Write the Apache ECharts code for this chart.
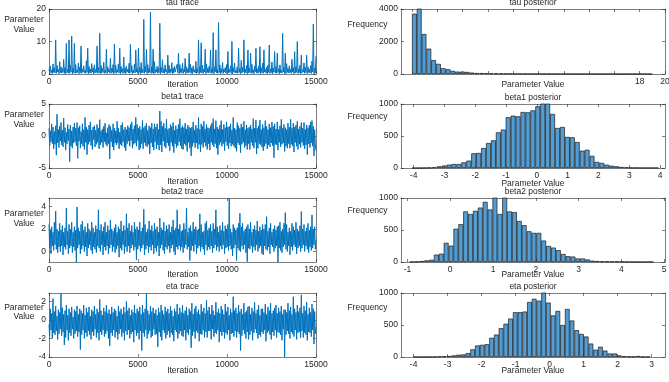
<!DOCTYPE html>
<html>
<head>
  <meta charset="utf-8" />
  <title>MCMC trace and posterior</title>
  <script src="https://cdn.jsdelivr.net/npm/echarts@6/dist/echarts.min.js"></script>
  <style>
    html, body { margin: 0; padding: 0; background: #fff; }
    #main { width: 669px; height: 382px; }
  </style>
</head>
<body>
  <div id="main"></div>
  <script type="text/javascript">
    // trace samples, one value every traceStep iterations
    var traceStep = 37.5;
    var tauTrace = [
      1.6, 0.2, 2.4, 0.4, 1.2, 0.1, 3.1, 0.5, 1.9, 0.3, 10.5, 0.2, 2.7, 0.6, 1.4, 0.1, 3.8, 0.4, 2.2, 0.3,
      1.7, 0.5, 4.5, 0.2, 2.0, 0.1, 9.4, 0.4, 1.5, 0.3, 10.5, 0.2, 2.6, 0.6, 11.7, 0.1, 1.8, 0.4, 9.4, 0.2,
      2.9, 0.3, 1.3, 0.5, 3.4, 0.1, 2.1, 0.4, 8.6, 0.2, 1.6, 0.6, 2.5, 0.3, 1.1, 0.2, 4.1, 0.5, 7.9, 0.1,
      2.3, 0.4, 1.5, 0.2, 3.2, 0.6, 1.9, 0.1, 2.8, 0.3, 1.4, 0.5, 8.6, 0.2, 2.0, 0.4, 12.5, 0.1, 2.6, 0.3,
      1.7, 0.5, 3.6, 0.2, 1.2, 0.4, 7.6, 0.1, 2.2, 0.6, 1.5, 0.3, 4.8, 0.2, 1.8, 0.5, 2.9, 0.1, 9.2, 0.4,
      2.7, 0.2, 1.3, 0.6, 3.1, 0.3, 7.9, 0.1, 2.3, 0.5, 1.6, 0.2, 5.2, 0.4, 1.9, 0.1, 2.5, 0.6, 1.4, 0.3,
      3.3, 0.2, 9.1, 0.5, 2.6, 0.1, 1.2, 0.4, 3.0, 0.3, 7.4, 0.6, 1.7, 0.2, 7.9, 0.5, 2.1, 0.1, 3.5, 0.3,
      1.5, 0.4, 16.8, 0.2, 2.4, 0.6, 7.6, 0.1, 2.9, 0.3, 1.8, 0.5, 19.0, 0.2, 2.2, 0.4, 7.6, 0.1, 3.8, 0.3,
      1.4, 0.6, 2.4, 0.2, 1.9, 0.4, 15.6, 0.1, 2.1, 0.5, 4.4, 0.3, 1.6, 0.2, 2.8, 0.6, 1.3, 0.1, 5.8, 0.4,
      2.6, 0.2, 1.5, 0.5, 3.5, 0.1, 1.8, 0.3, 2.4, 0.6, 1.2, 0.2, 3.0, 0.4, 6.4, 0.1, 2.9, 0.5, 1.7, 0.3,
      3.3, 0.2, 1.4, 0.6, 4.8, 0.1, 2.2, 0.4, 1.6, 0.3, 6.4, 0.5, 3.0, 0.2, 1.9, 0.1, 2.5, 0.6, 1.3, 0.3,
      3.9, 0.2, 1.7, 0.4, 10.5, 0.1, 2.3, 0.5, 9.6, 0.3, 2.7, 0.2, 1.4, 0.6, 7.6, 0.1, 3.1, 0.4, 1.8, 0.3,
      2.4, 0.5, 7.4, 0.2, 1.6, 0.4, 12.7, 0.1, 2.2, 0.6, 7.4, 0.3, 1.3, 0.2, 15.8, 0.5, 2.8, 0.1, 1.7, 0.4,
      3.6, 0.2, 1.5, 0.6, 2.0, 0.3, 2.9, 0.1, 6.9, 0.4, 1.4, 0.5, 2.5, 0.2, 10.0, 0.1, 1.9, 0.6, 3.4, 0.3,
      1.2, 0.4, 2.2, 0.2, 7.9, 0.5, 1.7, 0.1, 4.2, 0.3, 2.0, 0.6, 10.5, 0.2, 1.5, 0.4, 2.6, 0.1, 7.4, 0.3,
      1.8, 0.5, 6.4, 0.2, 3.0, 0.4, 1.3, 0.1, 2.4, 0.6, 7.9, 0.3, 1.6, 0.2, 2.4, 0.5, 8.4, 0.1, 1.9, 0.4,
      3.3, 0.2, 7.4, 0.6, 1.4, 0.3, 2.1, 0.1, 2.7, 0.5, 8.9, 0.2, 1.5, 0.4, 3.7, 0.1, 1.8, 0.6, 6.9, 0.3,
      2.3, 0.2, 6.4, 0.5, 1.6, 0.1, 2.8, 0.4, 1.2, 0.3, 12.5, 0.6, 2.0, 0.2, 6.4, 0.1, 3.2, 0.5, 1.7, 0.3,
      2.5, 0.4, 1.4, 0.2, 4.5, 0.6, 1.9, 0.1, 6.9, 0.3, 2.2, 0.5, 10.0, 0.2, 1.6, 0.4, 2.7, 0.1, 5.8, 0.3,
      1.3, 0.6, 3.4, 0.2, 2.0, 0.4, 5.8, 0.1, 2.2, 0.5, 1.5, 0.3, 2.6, 0.2, 4.0, 0.6, 15.4, 0.1, 1.8, 0.3,
      5.5
    ];
    var beta1Trace = [
      1.2, -1.5, 0.8, -0.9, 1.9, -1.2, 1.4, -2.0, 0.7, -1.3, 1.6, -3.0, 3.4, -1.1, 1.0, -1.8, 1.5, -0.8, 2.1, -1.4,
      0.9, -1.7, 2.8, -1.0, 1.3, -2.2, 0.6, -1.2, 1.8, -0.7, 1.1, -4.0, 1.7, -1.6, 0.8, -1.9, 1.4, -1.1, 2.0, -0.9,
      1.2, -1.5, 2.1, -3.5, 1.3, -0.8, 1.6, -1.9, 0.7, -1.2, 1.9, -1.6, 1.0, -2.1, 2.9, -1.0, 1.4, -2.9, 1.0, -1.3,
      1.7, -0.9, 2.2, -1.5, 0.9, -2.1, 1.4, -0.6, 1.6, -1.7, 0.9, -1.3, 1.8, -1.0, 1.2, -2.0, 2.55, -1.4, 0.8, -1.0,
      1.1, -1.8, 1.5, -0.9, 2.0, -1.3, 0.5, -1.6, 1.3, -1.2, 1.8, -3.6, 1.5, -0.9, 0.9, -1.7, 1.9, -2.2, 1.2, -1.1,
      0.8, -1.4, 2.3, -1.1, 1.2, -2.0, 0.6, -1.3, 1.7, -1.5, 2.1, -0.9, 1.0, -1.8, 1.4, -2.3, 1.0, -1.2, 1.6, -0.8,
      1.3, -1.6, 1.8, -0.7, 2.2, -1.9, 1.1, -1.3, 1.6, -1.1, 2.9, -1.6, 1.8, -0.7, 1.2, -2.2, 1.5, -1.9, 1.0, -1.2,
      2.4, -2.0, 1.3, -1.0, 1.6, -1.5, 2.0, -1.7, 0.9, -1.3, 1.6, -2.8, 1.3, -1.1, 2.0, -1.7, 1.1, -2.2, 1.9, -0.9,
      1.4, -2.0, 1.9, -1.4, 1.0, -2.2, 3.9, -1.4, 2.3, -2.5, 1.5, -0.8, 2.0, -1.6, 1.2, -1.9, 2.6, -1.1, 1.0, -1.5,
      1.2, -2.3, 1.8, -1.0, 1.5, -1.6, 2.1, -2.6, 0.9, -1.2, 1.6, -1.8, 1.1, -1.5, 1.8, -0.9, 2.7, -1.5, 1.3, -2.0,
      1.6, -2.1, 1.3, -1.2, 2.0, -1.5, 1.1, -2.4, 1.7, -1.0, 1.4, -1.9, 1.2, -3.1, 1.4, -1.6, 2.2, -1.1, 0.9, -1.8,
      1.7, -1.1, 1.2, -2.0, 2.9, -1.3, 1.0, -2.5, 1.9, -1.3, 1.5, -1.8, 2.3, -1.0, 1.1, -1.6, 1.8, -2.1, 1.3, -1.2,
      1.2, -2.2, 1.6, -1.0, 2.0, -1.4, 2.7, -1.7, 1.1, -1.2, 2.4, -1.9, 1.4, -2.9, 1.1, -1.4, 1.7, -1.0, 2.4, -1.6,
      1.0, -1.2, 1.8, -2.3, 1.3, -0.9, 2.2, -1.5, 1.4, -2.0, 1.5, -1.1, 1.9, -1.6, 0.9, -1.3, 2.9, -1.6, 1.2, -1.9,
      1.0, -2.4, 2.1, -1.1, 1.6, -1.4, 1.2, -2.6, 1.9, -1.3, 1.4, -1.0, 2.3, -1.8, 1.0, -1.5, 1.7, -2.1, 1.2, -1.2,
      1.4, -2.1, 1.7, -1.0, 1.1, -1.5, 2.7, -1.9, 1.2, -1.0, 2.5, -2.8, 1.2, -1.9, 1.6, -1.2, 2.5, -1.4, 1.0, -1.7,
      1.8, -2.3, 1.3, -1.6, 2.4, -1.2, 1.5, -2.0, 1.0, -1.4, 1.9, -1.7, 1.3, -1.1, 2.2, -1.5, 1.5, -3.4, 1.9, -1.3,
      1.1, -1.4, 2.2, -2.2, 1.0, -1.0, 1.6, -1.7, 2.6, -1.3, 1.2, -1.1, 1.8, -2.4, 1.3, -1.6, 1.0, -1.9, 2.0, -1.2,
      1.4, -1.9, 2.6, -1.3, 1.2, -1.6, 2.0, -2.5, 1.4, -1.0, 1.7, -1.6, 2.3, -2.1, 1.1, -1.3, 1.5, -1.8, 2.1, -1.0,
      1.2, -1.5, 2.1, -2.0, 1.0, -1.4, 1.7, -2.9, 1.3, -1.2, 1.7, -1.8, 2.2, -1.1, 2.4, -1.6, 1.5, -3.1, 1.0, -1.4,
      -2.3
    ];
    var beta2Trace = [
      2.4, 0.3, 1.9, -0.2, 2.2, 0.5, 1.7, 0.1, 2.6, 0.6, 3.6, 0.2, 2.0, -0.1, 1.8, 0.4, 2.5, 0.0, 1.9, 0.5,
      2.3, -0.3, 1.7, 0.4, 2.1, 0.2, 3.85, 0.6, 1.8, -0.2, 2.4, 0.3, 2.0, 0.5, 2.6, -0.1, 1.7, 0.4, 2.2, 0.1,
      1.9, -0.95, 3.95, 0.3, 2.1, 0.6, 1.8, -0.2, 2.4, 0.2, 2.7, 0.5, 1.9, 0.0, 2.2, 0.4, 1.7, -0.4, 2.5, 0.3,
      2.0, 0.6, 1.8, 0.1, 2.6, -0.2, 2.1, 0.4, 1.7, 0.2, 2.3, -0.1, 2.0, 0.5, 3.7, 0.3, 1.9, 0.0, 2.4, 0.6,
      1.8, -0.3, 2.2, 0.4, 2.6, 0.1, 1.7, 0.5, 2.3, -0.2, 1.9, 0.3, 2.8, 0.6, 2.0, 0.0, 1.8, 0.4, 2.1, -0.1,
      2.4, 0.2, 1.7, 0.5, 2.2, -0.5, 2.0, 0.3, 2.7, 0.1, 1.8, 0.6, 2.3, -0.2, 1.9, 0.4, 3.35, 0.0, 2.1, 0.5,
      2.5, -0.1, 1.8, 0.3, 2.3, 0.6, 1.7, 0.1, 2.6, 0.4, 2.0, -0.75, 2.2, 0.2, 1.9, 0.5, 2.6, 0.0, 1.8, 0.3,
      2.1, 0.6, 3.75, -0.3, 2.4, 0.2, 1.7, 0.5, 2.0, -0.1, 2.7, 0.4, 1.9, 0.1, 2.3, 0.6, 1.8, -0.2, 2.5, 0.3,
      2.0, 0.0, 2.2, 0.5, 1.7, -0.4, 2.96, 0.3, 2.1, 0.6, 1.9, 0.1, 2.6, -0.2, 1.8, 0.4, 2.3, 0.2, 2.0, 0.5,
      2.4, -0.1, 1.7, 0.3, 2.2, 0.6, 2.8, 0.0, 1.9, -0.3, 2.1, 0.4, 3.7, 0.2, 2.0, 0.5, 2.4, 0.1, 1.8, 0.4,
      1.9, -0.1, 2.5, 0.3, 2.0, 0.6, 3.85, 0.2, 1.7, 0.4, 2.1, -0.8, 2.3, 0.1, 1.8, 0.5, 2.6, 0.0, 2.0, 0.6,
      2.2, -0.2, 1.9, 0.3, 2.0, 0.5, 3.35, 0.0, 2.4, 0.4, 1.7, 0.2, 1.8, -0.3, 2.5, 0.6, 2.7, 0.1, 1.9, 0.4,
      2.1, 0.2, 2.4, 0.5, 1.8, -0.1, 2.5, 0.3, 2.0, 0.6, 3.7, 0.1, 2.2, 0.4, 1.7, 0.0, 2.3, 0.5, 1.9, 0.2,
      2.6, 0.6, 1.8, -0.2, 2.3, 0.3, 2.0, 0.4, 2.4, 0.1, 4.74, 0.5, 2.0, 0.2, 1.7, -0.4, 2.4, 0.3, 2.1, 0.6,
      1.9, -0.8, 2.1, 0.3, 2.5, 0.1, 3.4, 0.0, 2.2, 0.5, 2.5, 0.2, 1.8, 0.6, 2.0, -0.1, 2.2, -0.9, 2.4, 0.3,
      2.0, 0.2, 2.6, 0.5, 1.7, -0.1, 2.0, 0.4, 2.3, 0.1, 1.9, 0.6, 2.7, 0.0, 1.8, 0.3, 2.2, 0.5, 1.9, -0.2,
      2.4, -0.3, 2.0, 0.5, 2.4, 0.2, 3.1, 0.1, 1.8, 0.4, 2.1, -0.2, 2.5, 0.6, 1.7, 0.4, 2.0, 0.0, 2.3, 0.3,
      1.9, 0.5, 2.2, -0.95, 2.3, 0.3, 2.6, 0.1, 1.8, -0.1, 2.0, 0.4, 2.5, 0.6, 3.45, 0.2, 2.4, 0.0, 1.7, 0.5,
      2.1, -0.3, 1.8, 0.4, 2.5, 0.1, 2.2, 0.6, 1.9, 0.4, 2.6, -0.2, 2.0, 0.3, 1.8, 0.5, 2.3, 0.0, 3.55, 0.3,
      2.0, 0.6, 2.4, 0.0, 1.8, 0.5, 2.1, 0.2, 2.5, -0.1, 1.9, 0.4, 2.2, 0.1, 3.25, 0.3, 2.0, 0.6, 2.2, 0.2,
      1.0
    ];
    var etaTrace = [
      -0.5, -1.8, 1.2, -1.1, 0.7, -2.0, 2.3, -1.4, 0.9, -1.6, 1.5, -1.2, 0.4, -2.1, 1.1, -1.5, 0.8, -1.0, 2.85, -1.7,
      1.3, -1.3, 0.6, -2.7, 1.0, -1.9, 1.6, -1.1, 0.5, -2.2, 1.2, -1.4, 0.8, -1.7, 1.4, -1.0, 0.3, -2.0, 1.1, -1.5,
      0.9, -1.2, 1.5, -1.8, 0.6, -1.3, 1.2, -3.2, 1.0, -1.6, 0.7, -1.1, 1.6, -2.0, 0.5, -1.4, 1.3, -1.8, 0.8, -1.2,
      1.4, -1.6, 0.4, -2.1, 1.1, -1.3, 0.9, -1.7, 1.5, -1.0, 0.6, -1.9, 1.2, -1.4, 0.8, -2.2, 2.2, -1.3, 1.0, -1.6,
      0.5, -1.1, 1.3, -1.8, 0.9, -1.5, 1.6, -1.2, 0.7, -2.0, 1.1, -2.8, 0.6, -1.4, 1.4, -1.7, 0.8, -1.1, 1.2, -1.9,
      1.0, -1.3, 0.4, -2.1, 1.5, -1.5, 0.9, -1.0, 1.2, -1.8, 0.6, -1.4, 1.4, -2.2, 0.8, -1.2, 2.0, -1.6, 1.0, -1.1,
      1.3, -2.0, 0.5, -1.5, 1.1, -1.3, 0.8, -2.4, 1.6, -1.1, 0.7, -1.7, 1.2, -1.4, 0.9, -2.1, 1.4, -1.2, 0.6, -3.3,
      1.6, -1.4, 0.8, -1.8, 1.2, -1.1, 2.9, -2.0, 1.0, -1.5, 0.6, -1.2, 1.5, -1.9, 0.9, -1.7, 1.3, -1.0, 0.7, -1.6,
      1.1, -1.5, 0.5, -2.9, 1.3, -1.3, 0.8, -1.8, 1.6, -2.2, 1.0, -1.1, 0.6, -1.4, 1.4, -2.0, 0.9, -1.6, 1.2, -1.2,
      0.7, -1.9, 1.5, -1.4, 1.0, -1.6, 0.4, -2.3, 1.2, -1.1, 0.9, -1.3, 1.7, -2.0, 0.6, -1.5, 1.3, -1.2, 0.8, -1.7,
      1.6, -1.8, 0.7, -1.1, 1.0, -2.2, 1.4, -1.4, 0.5, -1.6, 1.2, -1.0, 0.9, -3.0, 1.8, -1.7, 0.6, -1.3, 1.2, -2.0,
      1.5, -1.2, 0.8, -1.4, 1.1, -2.3, 0.6, -1.5, 1.7, -1.6, 0.9, -1.1, 1.3, -1.9, 0.7, -1.3, 2.1, -1.9, 1.0, -1.2,
      1.4, -1.2, 0.6, -2.1, 1.6, -1.0, 1.0, -1.8, 0.5, -1.4, 1.9, -1.5, 0.8, -1.1, 1.2, -2.4, 0.7, -1.3, 1.5, -1.7,
      1.1, -1.3, 0.6, -2.0, 1.7, -1.4, 0.9, -1.6, 1.4, -1.1, 0.5, -2.2, 1.2, -1.5, 0.8, -1.4, 2.5, -1.8, 1.0, -1.2,
      1.3, -1.9, 0.7, -1.3, 1.6, -1.5, 0.9, -3.3, 1.2, -1.7, 0.6, -1.1, 1.8, -1.5, 0.8, -2.0, 1.0, -1.3, 1.4, -2.1,
      1.5, -1.6, 0.6, -1.2, 1.3, -2.2, 0.9, -1.4, 1.9, -1.0, 0.7, -1.4, 1.1, -2.0, 1.6, -1.6, 0.5, -1.8, 1.2, -1.3,
      1.2, -1.5, 0.8, -1.1, 1.7, -2.3, 0.6, -1.4, 1.4, -1.2, 1.0, -1.6, 1.8, -2.1, 0.7, -1.3, 1.0, -1.7, 1.3, -1.1,
      1.6, -1.9, 0.7, -1.3, 1.3, -1.4, 0.9, -1.6, 1.5, -2.2, 0.6, -1.0, 1.1, -4.0, 1.1, -1.6, 0.8, -1.2, 1.8, -1.5,
      1.0, -2.0, 1.4, -1.3, 0.6, -1.5, 2.5, -1.8, 1.2, -1.1, 0.8, -2.1, 1.6, -1.4, 0.9, -1.3, 1.3, -1.9, 2.7, -1.2,
      0.7, -1.9, 1.5, -1.4, 1.0, -1.6, 1.9, -2.2, 0.6, -1.3, 1.3, -1.4, 0.8, -1.8, 1.7, -1.1, 1.2, -2.6, 0.9, -1.5,
      -0.8
    ];

    // histogram counts, 50 equal bins per parameter
    var tauBinStart = 0, tauBinWidth = 0.38;
    var tauCounts = [
      3710, 4150, 2460, 1560, 850, 625, 355, 290, 190, 145,
      145, 125, 85, 60, 55, 45, 40, 40, 30, 22,
      18, 15, 12, 10, 9, 8, 10, 7, 6, 5,
      4, 3, 3, 4, 2, 2, 1, 1, 2, 3,
      1, 2, 3, 1, 1, 2, 1, 2, 1, 1
    ];
    var beta1BinStart = -4.05, beta1BinWidth = 0.16;
    var beta1Counts = [
      0, 0, 2, 5, 10, 26, 36, 52, 62, 62,
      88, 115, 230, 235, 312, 390, 432, 557, 600, 792,
      818, 807, 875, 870, 900, 963, 1020, 1010, 845, 625,
      640, 485, 480, 405, 270, 285, 190, 95, 80, 52,
      36, 26, 15, 10, 5, 4, 2, 1, 1, 1
    ];
    var beta2BinStart = -0.95, beta2BinWidth = 0.114;
    var beta2Counts = [
      3, 5, 15, 25, 35, 115, 130, 300, 255, 520,
      590, 790, 750, 800, 850, 940, 820, 1010, 750, 1010,
      790, 780, 640, 575, 480, 455, 455, 335, 250, 225,
      185, 125, 90, 85, 55, 55, 40, 20, 15, 10,
      8, 8, 8, 5, 3, 2, 1, 1, 0, 1
    ];
    var etaBinStart = -4.0, etaBinWidth = 0.139;
    var etaCounts = [
      1, 0, 1, 2, 3, 8, 12, 15, 25, 35,
      40, 60, 120, 180, 190, 200, 300, 350, 450, 520,
      600, 700, 700, 710, 860, 910, 880, 1020, 850, 650,
      720, 500, 750, 570, 420, 360, 320, 210, 115, 160,
      100, 55, 55, 25, 12, 8, 5, 15, 3, 2
    ];

    var FONT = '"Liberation Sans", Arial, Helvetica, sans-serif';
    var INK = '#262626';
    var FS = 8.5;

    var panels = [
      { title: 'tau trace', box: [49, 9, 267, 65], x: [0, 15000], xTicks: [0, 5000, 10000, 15000],
        y: [0, 20], yTicks: [0, 10, 20], xName: 'Iteration', yName: 'Parameter\nValue',
        titleY: 3, xNameY: 85, yNameY: 24.5, trace: tauTrace },
      { title: 'tau posterior', box: [401, 9, 264, 65], x: [-0.87, 20],
        xTicks: [0, 2, 4, 6, 8, 10, 12, 14, 16, 18, 20], xLabels: [18, 20],
        y: [0, 4000], yTicks: [0, 2000, 4000], xName: 'Parameter Value', yName: 'Frequency',
        titleY: 3, xNameY: 85, yNameY: 24.3, counts: tauCounts, start: tauBinStart, width: tauBinWidth },
      { title: 'beta1 trace', box: [49, 104, 267, 64], x: [0, 15000], xTicks: [0, 5000, 10000, 15000],
        y: [-5, 5], yTicks: [-5, 0, 5], xName: 'Iteration', yName: 'Parameter\nValue',
        titleY: 97, xNameY: 182, yNameY: 119.7, trace: beta1Trace },
      { title: 'beta1 posterior', box: [401, 104, 264, 64], x: [-4.41, 4.16],
        xTicks: [-4, -3, -2, -1, 0, 1, 2, 3, 4],
        y: [0, 1000], yTicks: [0, 500, 1000], xName: 'Parameter Value', yName: 'Frequency',
        titleY: 97.5, xNameY: 184, yNameY: 116.7, counts: beta1Counts, start: beta1BinStart, width: beta1BinWidth },
      { title: 'beta2 trace', box: [49, 198, 267, 64], x: [0, 15000], xTicks: [0, 5000, 10000, 15000],
        y: [-0.93, 4.75], yTicks: [0, 2, 4], xName: 'Iteration', yName: 'Parameter\nValue',
        titleY: 192, xNameY: 275, yNameY: 218.7, trace: beta2Trace },
      { title: 'beta2 posterior', box: [401, 198, 264, 64], x: [-1.15, 5.02],
        xTicks: [-1, 0, 1, 2, 3, 4, 5],
        y: [0, 1000], yTicks: [0, 500, 1000], xName: 'Parameter Value', yName: 'Frequency',
        titleY: 192, xNameY: 275, yNameY: 210.7, counts: beta2Counts, start: beta2BinStart, width: beta2BinWidth },
      { title: 'eta trace', box: [49, 293, 267, 64], x: [0, 15000], xTicks: [0, 5000, 10000, 15000],
        y: [-4, 2.9], yTicks: [-4, -2, 0, 2], xName: 'Iteration', yName: 'Parameter\nValue',
        titleY: 287, xNameY: 371, yNameY: 312, trace: etaTrace },
      { title: 'eta posterior', box: [401, 293, 264, 64], x: [-4.37, 3.39],
        xTicks: [-4, -3, -2, -1, 0, 1, 2, 3],
        y: [0, 1000], yTicks: [0, 500, 1000], xName: 'Parameter Value', yName: 'Frequency',
        titleY: 287, xNameY: 371, yNameY: 307.3, counts: etaCounts, start: etaBinStart, width: etaBinWidth }
    ];

    function makeAxis(gi, pos, range, ticks, labels) {
      return {
        type: 'value', gridIndex: gi, position: pos, min: range[0], max: range[1],
        axisLine: { show: true, onZero: false, lineStyle: { color: INK, width: 0.6 } },
        axisTick: { show: true, inside: true, length: 3, customValues: ticks, lineStyle: { color: INK, width: 0.6 } },
        axisLabel: { show: !!labels, customValues: labels || ticks, margin: 3, color: INK,
          fontSize: FS, fontFamily: FONT, formatter: function (v) { return String(v); } },
        splitLine: { show: false }
      };
    }

    function txt(text, x, y) {
      return {
        type: 'text', x: x, y: y, silent: true,
        style: { text: text, fill: INK, font: FS + 'px ' + FONT, textAlign: 'center', textVerticalAlign: 'middle',
          align: 'center', verticalAlign: 'middle', lineHeight: 9.5 }
      };
    }

    var grids = [], xAxes = [], yAxes = [], series = [], graphics = [];
    panels.forEach(function (p, i) {
      var b = p.box;
      grids.push({ left: b[0], top: b[1], width: b[2], height: b[3], outerBoundsMode: 'none' });
      xAxes.push(makeAxis(i, 'bottom', p.x, p.xTicks, p.xLabels || p.xTicks));
      xAxes.push(makeAxis(i, 'top', p.x, p.xTicks, null));
      yAxes.push(makeAxis(i, 'left', p.y, p.yTicks, p.yTicks));
      yAxes.push(makeAxis(i, 'right', p.y, p.yTicks, null));
      var cx = b[0] + b[2] / 2;
      graphics.push(txt(p.title, cx, p.titleY));
      graphics.push(txt(p.xName, cx, p.xNameY));
      graphics.push(txt(p.yName, i % 2 === 0 ? 24 : 367.5, p.yNameY));
      if (p.trace) {
        series.push({
          type: 'line', xAxisIndex: 2 * i, yAxisIndex: 2 * i,
          data: p.trace.map(function (v, k) { return [k * traceStep, v]; }),
          showSymbol: false, symbol: 'none', silent: true,
          lineStyle: { color: '#0072BD', width: 1.0 }
        });
      } else {
        series.push({
          type: 'bar', xAxisIndex: 2 * i, yAxisIndex: 2 * i,
          data: p.counts.map(function (c, k) { return [p.start + (k + 0.5) * p.width, c]; }),
          barWidth: '100%', silent: true, clip: true,
          itemStyle: { color: '#529DD3', borderColor: '#1a1a1a', borderWidth: 0.7 }
        });
      }
    });

    var chart = echarts.init(document.getElementById('main'), null, { renderer: 'canvas' });
    chart.setOption({
      animation: false,
      backgroundColor: '#ffffff',
      grid: grids,
      xAxis: xAxes,
      yAxis: yAxes,
      series: series,
      graphic: graphics
    });
  </script>
</body>
</html>
